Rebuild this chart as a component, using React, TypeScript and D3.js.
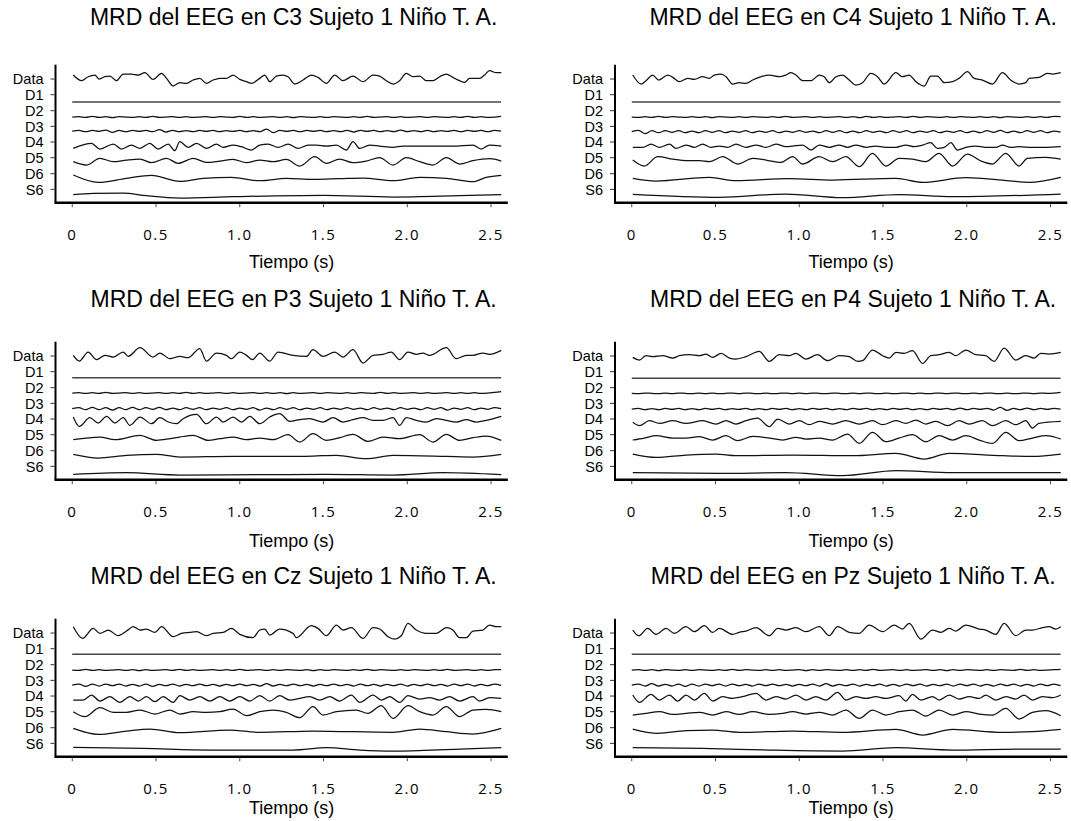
import React from "react";
import * as d3 from "d3";

const electrodes = ["C3", "C4", "P3", "P4", "Cz", "Pz"];
const channels = ["Data", "D1", "D2", "D3", "D4", "D5", "D6", "S6"];
const channelLevels = [371, 324, 276, 229, 182, 135, 87, 40];
const timeTicks = [0, 0.5, 1, 1.5, 2, 2.5];
const timeTickLabels = ["0", "0.5", "1.0", "1.5", "2.0", "2.5"];
const duration = 2.56;

// D1 (flat), D2 and D3 baselines per electrode
const d1Levels = [302, 302, 306, 304, 307, 307];
const d2Levels = [257, 257, 260, 259, 260, 260];
const d3Levels = [215, 213, 213, 212, 215, 215];

// ---------- C3 ----------
const c3Data = [[0.006,383],[0.056,366],[0.095,378],[0.135,383],[0.161,371],[0.195,378],[0.225,380],[0.264,366],[0.304,386],[0.354,386],[0.394,383],[0.433,390],[0.483,370],[0.533,388],[0.563,373],[0.602,350],[0.642,360],[0.682,358],[0.722,368],[0.761,373],[0.801,358],[0.841,368],[0.881,373],[0.920,373],[0.960,383],[1.000,370],[1.040,363],[1.070,358],[1.119,373],[1.149,383],[1.179,363],[1.219,380],[1.258,383],[1.288,378],[1.328,356],[1.378,368],[1.427,383],[1.467,376],[1.517,358],[1.567,383],[1.616,366],[1.676,380],[1.736,363],[1.795,383],[1.835,380],[1.875,366],[1.915,356],[1.954,366],[1.994,388],[2.034,378],[2.074,380],[2.113,366],[2.153,366],[2.193,378],[2.233,386],[2.272,376],[2.312,366],[2.342,361],[2.372,373],[2.431,373],[2.461,383],[2.491,396],[2.531,390],[2.561,390]];
const c3D2 = [0,1,-1,2,-1,1,-2,1,0,-1,1,-1,2,-1,0,1,-1,1,-1,0,1,-1,1,0,-1,2,-1,1,-1,0,1,-1,1,-2,1,0,-1,1,-1,1,0,-1,1,-1,2,-1,0,1,-1,1,-1,0,1,-1,1,0,-1,1,-1,2,-1,1,-1,0,2];
const c3D3 = [0,2,-2,2,-1,3,-4,2,-2,2,-1,2,-2,4,-3,2,-2,1,-2,2,-1,2,-2,1,-1,2,-2,1,-2,6,-5,2,-1,2,-2,2,-1,2,-2,1,-2,2,-3,2,-1,2,-2,1,-2,3,-2,1,-2,2,-2,1,-1,2,-2,2,-1,2,-2,2,0];
const c3D4 = [[0.006,163],[0.115,178],[0.165,161],[0.245,176],[0.294,161],[0.354,173],[0.404,163],[0.463,178],[0.513,161],[0.573,176],[0.612,156],[0.642,183],[0.692,166],[0.742,178],[0.801,163],[0.861,176],[0.901,166],[0.960,173],[1.010,168],[1.070,158],[1.119,173],[1.169,176],[1.229,166],[1.288,176],[1.348,163],[1.408,173],[1.457,173],[1.517,170],[1.577,173],[1.636,158],[1.676,183],[1.716,163],[1.775,173],[1.835,170],[1.915,166],[1.974,170],[2.074,170],[2.173,170],[2.272,170],[2.392,173],[2.441,161],[2.491,173],[2.561,170]];
const c3D5 = [[0.006,123],[0.085,113],[0.165,133],[0.245,123],[0.324,128],[0.404,131],[0.473,120],[0.563,133],[0.632,118],[0.722,133],[0.801,121],[0.881,125],[0.960,130],[1.040,120],[1.119,128],[1.199,123],[1.278,130],[1.358,110],[1.447,138],[1.517,118],[1.596,131],[1.676,120],[1.755,125],[1.835,135],[1.915,113],[1.994,135],[2.074,123],[2.153,113],[2.233,135],[2.312,116],[2.392,126],[2.491,132],[2.561,125]];
const c3D6 = [[0.006,83],[0.155,61],[0.324,73],[0.473,82],[0.642,64],[0.781,73],[0.950,76],[1.119,66],[1.278,73],[1.437,70],[1.596,72],[1.736,74],[1.915,66],[2.074,76],[2.233,73],[2.392,63],[2.471,76],[2.561,82]];
const c3S6 = [[0.006,24],[0.125,28],[0.304,29],[0.443,21],[0.642,14],[0.960,18],[1.497,22],[1.915,17],[2.312,21],[2.561,24]];

// ---------- C4 ----------
const c4Data = [[0.006,383],[0.056,356],[0.085,366],[0.125,383],[0.161,368],[0.215,383],[0.245,376],[0.284,363],[0.334,373],[0.374,370],[0.423,378],[0.463,373],[0.493,383],[0.533,386],[0.563,378],[0.602,356],[0.642,360],[0.682,358],[0.722,368],[0.761,376],[0.821,383],[0.881,378],[0.920,383],[0.950,390],[0.980,383],[1.020,366],[1.070,366],[1.119,383],[1.149,378],[1.179,360],[1.219,378],[1.258,383],[1.298,368],[1.338,353],[1.378,360],[1.427,388],[1.467,378],[1.507,356],[1.577,390],[1.616,378],[1.656,383],[1.696,363],[1.746,350],[1.785,380],[1.825,380],[1.865,360],[1.915,363],[1.954,373],[2.004,393],[2.044,373],[2.093,368],[2.153,356],[2.213,390],[2.262,368],[2.312,356],[2.352,360],[2.372,373],[2.431,376],[2.481,388],[2.511,386],[2.561,390]];
const c4D2 = [0,-1,1,-1,2,-1,1,0,-1,1,-1,1,-2,1,0,-1,1,-1,1,0,-1,1,-1,2,-1,0,1,-1,1,-1,0,1,-1,1,-2,2,-1,1,-1,0,1,-1,2,-1,1,0,-1,1,-1,1,0,-1,1,-1,1,-2,1,0,-1,1,-1,1,-1,2,1];
const c4D3 = [0,4,-6,3,-3,3,-2,3,-3,2,-3,3,-2,3,-3,2,-2,3,-3,2,-2,3,-3,2,-2,3,-2,2,-3,3,-2,3,-3,2,-3,3,-2,2,-3,3,-2,3,-3,2,-2,3,-3,2,-2,3,-3,2,-3,3,-2,4,-3,2,-3,3,-2,3,-3,2,-1];
const c4D4 = [[0.006,166],[0.066,166],[0.115,176],[0.165,166],[0.225,176],[0.264,163],[0.324,173],[0.374,166],[0.423,176],[0.473,166],[0.523,170],[0.573,166],[0.622,176],[0.682,166],[0.742,173],[0.801,166],[0.861,176],[0.920,168],[0.960,170],[1.020,173],[1.070,158],[1.119,173],[1.179,166],[1.238,173],[1.288,166],[1.338,173],[1.398,166],[1.457,170],[1.517,166],[1.577,166],[1.636,173],[1.686,168],[1.736,173],[1.785,180],[1.825,163],[1.865,166],[1.905,180],[1.944,158],[1.994,166],[2.054,170],[2.113,166],[2.173,166],[2.213,173],[2.262,166],[2.312,168],[2.392,166],[2.471,166],[2.561,168]];
const c4D5 = [[0.006,128],[0.075,110],[0.155,138],[0.245,131],[0.324,126],[0.404,126],[0.463,123],[0.543,138],[0.632,116],[0.722,133],[0.801,128],[0.891,121],[0.960,138],[1.020,116],[1.119,138],[1.199,123],[1.278,138],[1.358,108],[1.437,148],[1.517,110],[1.596,133],[1.676,131],[1.755,123],[1.835,148],[1.915,110],[2.004,146],[2.084,125],[2.153,116],[2.233,148],[2.312,110],[2.362,133],[2.471,136],[2.561,131]];
const c4D6 = [[0.006,73],[0.145,65],[0.463,76],[0.622,66],[0.940,72],[1.199,68],[1.577,73],[1.736,61],[1.994,75],[2.213,68],[2.372,61],[2.561,76]];
const c4S6 = [[0.006,25],[0.523,16],[0.920,26],[1.258,15],[1.596,24],[1.915,18],[2.561,26]];

// ---------- P3 ----------
const p3Data = [[0.006,373],[0.042,356],[0.095,383],[0.145,360],[0.195,373],[0.245,368],[0.304,383],[0.334,370],[0.404,396],[0.483,368],[0.523,380],[0.583,363],[0.642,370],[0.692,366],[0.761,393],[0.801,356],[0.861,380],[0.920,373],[0.950,363],[1.000,383],[1.040,373],[1.076,360],[1.119,380],[1.179,356],[1.229,383],[1.318,373],[1.398,370],[1.437,390],[1.497,370],[1.567,383],[1.616,368],[1.676,390],[1.736,350],[1.795,373],[1.855,376],[1.905,383],[1.954,360],[2.004,383],[2.054,376],[2.093,380],[2.133,373],[2.233,396],[2.292,363],[2.352,373],[2.392,373],[2.451,380],[2.491,376],[2.561,388]];
const p3D2 = [0,1,-1,1,-1,2,-1,0,1,-1,1,-1,0,1,-1,1,-1,2,-1,1,-1,0,1,-1,1,-1,0,1,-1,1,-1,1,-2,1,-1,0,1,-1,1,0,-1,1,-1,1,0,-1,2,-1,1,-1,0,1,-1,1,-1,0,1,-1,1,-1,1,-1,0,2,4];
const p3D3 = [0,3,-3,4,-3,3,-4,3,-3,4,-3,3,-2,4,-3,2,-3,3,-2,3,-3,2,-2,3,-3,2,-2,3,-4,2,-3,3,-2,3,-3,2,-2,3,-3,2,-2,3,-2,2,-3,3,-2,2,-3,3,-2,2,-3,3,-2,3,-4,2,-2,3,-3,2,-2,3,0];
const p3D4 = [[0.006,188],[0.042,160],[0.105,186],[0.155,170],[0.205,190],[0.254,170],[0.304,186],[0.344,163],[0.404,188],[0.473,168],[0.523,186],[0.573,173],[0.622,168],[0.662,183],[0.742,196],[0.801,168],[0.861,188],[0.901,173],[0.960,188],[1.010,173],[1.060,190],[1.119,168],[1.179,188],[1.238,198],[1.298,175],[1.358,180],[1.417,183],[1.497,173],[1.557,186],[1.616,173],[1.676,180],[1.736,186],[1.795,178],[1.855,178],[1.915,186],[1.954,163],[1.994,186],[2.054,178],[2.113,173],[2.173,183],[2.233,178],[2.292,173],[2.352,180],[2.411,173],[2.491,180],[2.561,190]];
const p3D5 = [[0.006,120],[0.165,128],[0.254,120],[0.404,133],[0.503,118],[0.583,123],[0.642,128],[0.722,133],[0.811,118],[0.881,123],[0.960,128],[1.040,120],[1.119,125],[1.199,120],[1.288,135],[1.358,113],[1.437,138],[1.517,118],[1.596,126],[1.676,136],[1.765,115],[1.855,128],[1.954,123],[2.074,135],[2.153,113],[2.233,136],[2.312,118],[2.392,126],[2.471,131],[2.561,118]];
const p3D6 = [[0.006,76],[0.155,65],[0.324,73],[0.503,76],[0.642,68],[0.960,70],[1.278,70],[1.437,71],[1.577,73],[1.755,63],[1.915,73],[2.233,70],[2.392,68],[2.561,76]];
const p3S6 = [[0.006,16],[0.324,21],[0.642,14],[1.119,15],[1.517,16],[1.915,14],[2.213,21],[2.561,15]];

// ---------- P4 ----------
const p4Data = [[0.006,367],[0.046,359],[0.085,372],[0.125,369],[0.185,372],[0.245,365],[0.284,372],[0.344,375],[0.404,372],[0.443,377],[0.483,367],[0.533,379],[0.583,365],[0.622,362],[0.682,369],[0.761,385],[0.821,355],[0.881,375],[0.940,372],[0.980,379],[1.040,362],[1.109,375],[1.169,357],[1.238,372],[1.298,369],[1.348,355],[1.378,357],[1.437,389],[1.497,372],[1.537,365],[1.577,382],[1.626,379],[1.676,387],[1.736,349],[1.785,372],[1.835,375],[1.895,382],[1.934,372],[1.994,389],[2.054,375],[2.113,372],[2.163,355],[2.223,395],[2.292,359],[2.352,372],[2.402,365],[2.441,379],[2.491,377],[2.561,382]];
const p4D2 = [0,-1,1,0,-1,1,-1,1,0,-1,1,-1,1,-1,0,1,-1,1,0,-1,1,-1,0,1,-1,1,-1,1,0,-1,1,0,-1,1,-1,1,0,-1,1,-1,0,1,-1,1,-1,0,1,-1,1,0,-1,1,-1,1,0,-1,1,-1,0,1,-1,1,0,1,3];
const p4D3 = [0,2,-2,1,-2,2,-1,2,-2,1,-2,2,-1,2,-2,1,-1,2,-2,1,-2,2,-1,2,-2,1,-2,2,-1,2,-2,1,-2,2,-1,2,-2,1,-2,2,-1,2,-2,1,-2,2,-1,2,-2,3,-2,2,-1,2,-3,5,-4,2,-2,3,-2,2,-1,2,0];
const p4D4 = [[0.006,172],[0.046,162],[0.105,177],[0.165,169],[0.245,177],[0.324,169],[0.423,177],[0.503,167],[0.563,177],[0.622,167],[0.682,177],[0.751,185],[0.821,159],[0.871,182],[0.940,167],[1.000,177],[1.060,165],[1.119,175],[1.199,167],[1.278,177],[1.358,167],[1.437,177],[1.497,165],[1.577,177],[1.636,169],[1.696,179],[1.755,167],[1.815,175],[1.885,162],[1.954,177],[2.014,167],[2.093,177],[2.153,162],[2.233,177],[2.292,165],[2.352,177],[2.392,155],[2.431,169],[2.561,175]];
const p4D5 = [[0.006,119],[0.075,125],[0.145,132],[0.245,125],[0.324,125],[0.404,129],[0.483,119],[0.563,132],[0.632,117],[0.722,130],[0.821,125],[0.901,119],[0.980,127],[1.040,122],[1.119,125],[1.199,119],[1.288,137],[1.358,109],[1.437,142],[1.517,114],[1.596,125],[1.676,135],[1.755,114],[1.835,132],[1.915,119],[1.994,132],[2.074,119],[2.153,109],[2.233,142],[2.312,117],[2.392,125],[2.471,132],[2.561,122]];
const p4D6 = [[0.006,77],[0.145,67],[0.324,74],[0.503,77],[0.622,72],[0.960,74],[1.318,72],[1.577,79],[1.746,62],[1.895,79],[2.213,72],[2.392,70],[2.561,77]];
const p4S6 = [[0.006,21],[0.523,19],[0.920,21],[1.258,12],[1.577,27],[1.915,21],[2.561,21]];

// ---------- Cz ----------
const czData = [[0.006,390],[0.062,355],[0.125,385],[0.165,370],[0.215,380],[0.274,363],[0.324,377],[0.364,390],[0.404,380],[0.443,383],[0.493,373],[0.533,390],[0.602,360],[0.652,370],[0.702,373],[0.742,375],[0.801,363],[0.841,370],[0.901,373],[0.950,385],[1.000,367],[1.079,357],[1.119,380],[1.149,383],[1.179,365],[1.238,383],[1.318,370],[1.338,357],[1.427,393],[1.467,385],[1.517,363],[1.577,395],[1.616,380],[1.666,387],[1.736,355],[1.795,387],[1.835,383],[1.885,360],[1.924,353],[1.964,363],[2.004,400],[2.054,380],[2.113,370],[2.173,370],[2.233,387],[2.272,380],[2.312,357],[2.352,357],[2.392,377],[2.451,380],[2.491,395],[2.531,390],[2.561,390]];
const czD2 = [0,-1,2,-1,1,-1,0,1,-1,1,-2,1,-1,0,1,-1,2,-1,1,-1,0,1,-1,1,-1,2,-1,0,1,-1,1,-1,1,0,-1,1,-2,1,-1,1,0,-1,1,-1,2,-1,1,0,-1,1,-1,1,0,-1,1,-1,2,-1,0,1,-1,1,-1,1,1];
const czD3 = [0,3,-4,3,-3,3,-2,3,-3,2,-3,3,-4,2,-2,3,-3,2,-2,3,-2,2,-3,2,-2,3,-2,2,-3,4,-3,2,-2,3,-2,2,-3,2,-2,3,-2,2,-3,3,-2,2,-3,2,-2,3,-3,2,-2,3,-2,2,-3,3,-2,3,-3,2,-2,3,-1];
const czD4 = [[0.006,170],[0.066,170],[0.115,185],[0.165,167],[0.225,180],[0.284,163],[0.344,180],[0.394,167],[0.443,180],[0.493,165],[0.543,180],[0.602,163],[0.642,183],[0.702,170],[0.761,180],[0.821,167],[0.881,180],[0.940,167],[1.000,180],[1.060,167],[1.119,183],[1.179,167],[1.238,183],[1.298,170],[1.358,175],[1.417,180],[1.477,170],[1.537,180],[1.596,167],[1.666,185],[1.716,163],[1.795,185],[1.845,170],[1.895,180],[1.954,163],[2.004,183],[2.074,173],[2.133,177],[2.193,170],[2.252,180],[2.312,167],[2.392,180],[2.431,167],[2.491,177],[2.561,175]];
const czD5 = [[0.006,135],[0.075,120],[0.165,147],[0.245,133],[0.324,133],[0.404,140],[0.493,128],[0.583,140],[0.642,128],[0.722,135],[0.801,133],[0.881,135],[0.960,143],[1.040,123],[1.119,135],[1.199,140],[1.278,133],[1.358,117],[1.437,150],[1.497,125],[1.577,135],[1.696,140],[1.765,130],[1.845,153],[1.915,115],[2.004,153],[2.074,135],[2.153,125],[2.233,150],[2.312,120],[2.392,140],[2.471,142],[2.561,135]];
const czD6 = [[0.006,85],[0.155,67],[0.324,77],[0.463,83],[0.642,72],[0.940,80],[1.119,73],[1.437,77],[1.915,73],[2.074,83],[2.233,75],[2.392,68],[2.561,85]];
const czS6 = [[0.006,28],[0.423,25],[0.821,20],[1.318,20],[1.517,27],[1.716,20],[1.915,17],[2.312,23],[2.561,27]];

// ---------- Pz ----------
const pzData = [[0.006,380],[0.042,363],[0.095,385],[0.145,367],[0.205,385],[0.254,370],[0.324,390],[0.374,375],[0.433,393],[0.483,373],[0.523,385],[0.602,367],[0.642,373],[0.682,377],[0.742,387],[0.821,363],[0.871,385],[0.920,380],[0.980,387],[1.040,375],[1.119,390],[1.179,363],[1.229,390],[1.298,373],[1.358,370],[1.417,395],[1.497,375],[1.567,395],[1.616,383],[1.656,400],[1.726,353],[1.795,380],[1.845,373],[1.895,385],[1.934,377],[1.994,395],[2.074,383],[2.113,380],[2.173,367],[2.223,400],[2.292,363],[2.352,380],[2.392,380],[2.451,387],[2.491,390],[2.531,383],[2.561,390]];
const pzD2 = [0,1,-1,1,-2,1,0,-1,1,-1,1,0,-1,1,-1,2,-1,1,0,-1,1,-1,1,-1,0,1,-2,1,-1,1,0,-1,1,-1,1,-1,2,-1,0,1,-1,1,-1,0,1,-1,1,-2,1,-1,1,0,-1,1,-1,1,0,-1,2,-1,1,-1,0,1,2];
const pzD3 = [0,3,-3,4,-3,2,-3,3,-4,3,-3,3,-2,3,-3,3,-2,2,-3,3,-2,3,-2,2,-3,2,-2,3,-3,4,-3,2,-2,3,-3,2,-2,3,-3,2,-3,3,-2,3,-3,2,-2,3,-3,3,-2,3,-3,2,-3,3,-2,3,-3,2,-3,3,-2,3,-2];
const pzD4 = [[0.006,185],[0.046,163],[0.115,187],[0.165,170],[0.225,185],[0.274,167],[0.324,185],[0.374,170],[0.433,190],[0.483,167],[0.543,180],[0.602,175],[0.662,180],[0.742,190],[0.801,170],[0.861,180],[0.920,173],[0.980,185],[1.040,170],[1.099,180],[1.159,170],[1.229,193],[1.278,170],[1.338,180],[1.398,175],[1.457,180],[1.517,175],[1.596,183],[1.636,167],[1.676,187],[1.726,170],[1.795,180],[1.835,170],[1.895,185],[1.954,173],[2.014,180],[2.074,175],[2.113,185],[2.173,170],[2.233,180],[2.292,173],[2.342,185],[2.392,170],[2.451,180],[2.511,177],[2.561,185]];
const pzD5 = [[0.006,125],[0.085,130],[0.165,135],[0.245,127],[0.324,130],[0.404,133],[0.483,125],[0.563,135],[0.642,127],[0.722,135],[0.821,127],[0.901,130],[0.960,135],[1.040,128],[1.119,133],[1.199,125],[1.278,140],[1.358,115],[1.437,140],[1.517,125],[1.596,135],[1.676,140],[1.755,122],[1.835,140],[1.915,125],[1.994,135],[2.074,128],[2.153,125],[2.233,145],[2.312,113],[2.392,133],[2.471,138],[2.561,123]];
const pzD6 = [[0.006,83],[0.155,70],[0.324,78],[0.483,80],[0.642,73],[0.960,77],[1.258,73],[1.577,82],[1.736,65],[1.915,82],[2.213,73],[2.392,75],[2.561,82]];
const pzS6 = [[0.006,27],[0.423,25],[0.821,20],[1.258,17],[1.577,27],[1.915,20],[2.312,23],[2.561,23]];

const keyTraces = [
  [c3Data, c3D4, c3D5, c3D6, c3S6],
  [c4Data, c4D4, c4D5, c4D6, c4S6],
  [p3Data, p3D4, p3D5, p3D6, p3S6],
  [p4Data, p4D4, p4D5, p4D6, p4S6],
  [czData, czD4, czD5, czD6, czS6],
  [pzData, pzD4, pzD5, pzD6, pzS6],
];
const d2Ripples = [c3D2, c4D2, p3D2, p4D2, czD2, pzD2];
const d3Ripples = [c3D3, c4D3, p3D3, p4D3, czD3, pzD3];

// layout
const W = 1071;
const H = 821;
const colStep = 559.5;
const rowStep = 277;
const axisLeft0 = 55.5;
const axisRight0 = 507.8;
const axisY0 = 202.7;
const plotH = 138;
const titleBaselines = [25, 307, 584];
const xLabelOffsets = [65.3, 67, 57];

const rippleToPoints = (level: number, dev: number[]) =>
  dev.map((v, i) => [(i * duration) / (dev.length - 1), level + v] as [number, number]);

function Panel({ idx }: { idx: number }) {
  const col = idx % 2;
  const row = Math.floor(idx / 2);
  const x = d3
    .scaleLinear()
    .domain([-0.1, 2.6])
    .range([axisLeft0 + col * colStep, axisRight0 + col * colStep]);
  const axisY = axisY0 + row * rowStep;
  const y = d3.scaleLinear().domain([0, 414]).range([axisY, axisY - plotH]);
  const line = d3
    .line<[number, number]>()
    .x((d) => x(d[0]))
    .y((d) => y(d[1]))
    .curve(d3.curveMonotoneX);

  const [dData, dD4, dD5, dD6, dS6] = keyTraces[idx] as [number, number][][];
  const d1: [number, number][] = [
    [0, d1Levels[idx]],
    [duration, d1Levels[idx]],
  ];
  const d2 = rippleToPoints(d2Levels[idx], d2Ripples[idx]);
  const d3r = rippleToPoints(d3Levels[idx], d3Ripples[idx]);
  const traces = [dData, d2, d3r, dD4, dD5, dD6, dS6];
  const x0 = x(-0.1);
  const cx = x(1.25) + 10;

  return (
    <g>
      <text
        x={cx + 2}
        y={titleBaselines[row]}
        textAnchor="middle"
        fontFamily="'Liberation Sans', Arial, sans-serif"
        fontSize={23}
        fill="#000"
      >
        {`MRD del EEG en ${electrodes[idx]} Sujeto 1 Niño T. A.`}
      </text>
      {/* traces */}
      <path d={line(d1) || ""} fill="none" stroke="#444" strokeWidth={1.5} />
      {traces.map((t, i) => (
        <path key={i} d={line(t) || ""} fill="none" stroke="#111" strokeWidth={1.25} strokeLinejoin="round" />
      ))}
      {/* axes */}
      <line x1={x0} x2={x0} y1={y(414)} y2={axisY} stroke="#000" strokeWidth={2} />
      <line x1={x0 - 1} x2={x(2.6)} y1={axisY} y2={axisY} stroke="#000" strokeWidth={2.4} />
      {channels.map((c, i) => (
        <g key={c}>
          <line x1={x0 - 5} x2={x0 - 1} y1={y(channelLevels[i])} y2={y(channelLevels[i])} stroke="#333" strokeWidth={1} />
          <text
            x={x0 - 12}
            y={y(channelLevels[i])}
            dy="0.36em"
            textAnchor="end"
            fontFamily="'Liberation Sans', Arial, sans-serif"
            fontSize={14.5}
            fill="#000"
          >
            {c}
          </text>
        </g>
      ))}
      {timeTicks.map((t, i) => (
        <g key={t}>
          <line x1={x(t)} x2={x(t)} y1={axisY + 1.5} y2={axisY + 4.5} stroke="#444" strokeWidth={1} />
          <text
            x={x(t)}
            y={axisY + 37.3}
            textAnchor="middle"
            fontFamily="'Open Sans', sans-serif"
            fontSize={15}
            letterSpacing={1.5}
            fill="#000"
          >
            {timeTickLabels[i]}
          </text>
        </g>
      ))}
      <text
        x={cx}
        y={axisY + xLabelOffsets[row]}
        textAnchor="middle"
        fontFamily="'Liberation Sans', Arial, sans-serif"
        fontSize={18}
        fill="#000"
      >
        Tiempo (s)
      </text>
    </g>
  );
}

export default function App() {
  return (
    <svg
      width={W}
      height={H}
      viewBox={`0 0 ${W} ${H}`}
      style={{ position: "absolute", left: 0, top: 0, background: "#fff" }}
    >
      <rect width={W} height={H} fill="#fff" />
      {electrodes.map((e, i) => (
        <Panel key={e} idx={i} />
      ))}
    </svg>
  );
}
